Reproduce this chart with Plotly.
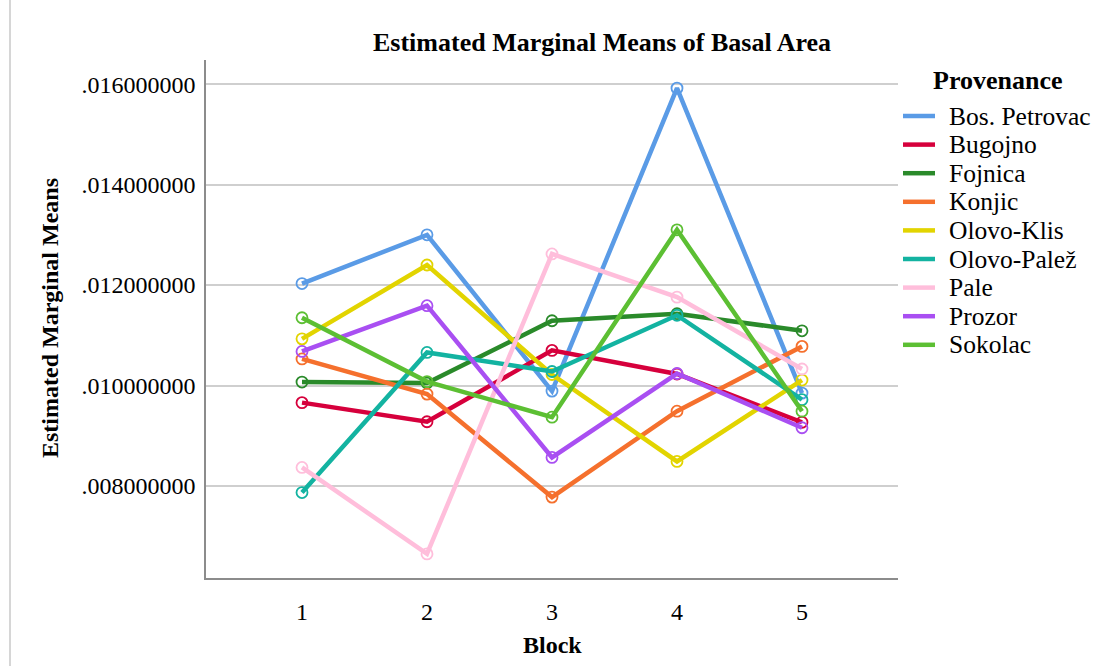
import plotly.graph_objects as go

# Estimated marginal means of basal area by block and provenance
blocks = [1, 2, 3, 4, 5]
provenances = ["Bos. Petrovac", "Bugojno", "Fojnica", "Konjic", "Olovo-Klis",
               "Olovo-Palež", "Pale", "Prozor", "Sokolac"]

bos_petrovac = [0.01203, 0.01300, 0.00989, 0.01592, 0.00985]
bugojno      = [0.00966, 0.00928, 0.01070, 0.01023, 0.00927]
fojnica      = [0.01007, 0.01005, 0.01129, 0.01143, 0.01109]
konjic       = [0.01053, 0.00983, 0.00778, 0.00949, 0.01078]
olovo_klis   = [0.01093, 0.01240, 0.01022, 0.00849, 0.01011]
olovo_palez  = [0.00787, 0.01066, 0.01028, 0.01140, 0.00972]
pale         = [0.00837, 0.00665, 0.01262, 0.01176, 0.01033]
prozor       = [0.01068, 0.01159, 0.00857, 0.01024, 0.00916]
sokolac      = [0.01135, 0.01008, 0.00937, 0.01310, 0.00949]

series = [bos_petrovac, bugojno, fojnica, konjic, olovo_klis,
          olovo_palez, pale, prozor, sokolac]

colors = ["#5a9be6", "#d6003c", "#2a8a2a", "#f5702d", "#e2d400",
          "#13b3a1", "#ffbedb", "#a94ff2", "#5cbf33"]

y_ticks = [0.008, 0.010, 0.012, 0.014, 0.016]
y_ticktext = [f"{v:.9f}".lstrip("0") for v in y_ticks]

W, H = 1105, 666
L, R, T, B = 206, 898, 60, 578   # plot area in pixels
FONT = "Liberation Serif, Times New Roman, serif"


def px(x):
    return (x - L) / (R - L)


def py(y):
    return (B - y) / (B - T)


fig = go.Figure()
for name, vals, col in zip(provenances, series, colors):
    fig.add_trace(go.Scatter(
        x=blocks, y=vals, name=name, mode="lines+markers",
        line=dict(color=col, width=4.5),
        marker=dict(symbol="circle-open", size=11, color=col,
                    line=dict(width=1.8, color=col)),
        showlegend=False,
    ))

shapes = []
annotations = []

# legend drawn in pixel positions
annotations.append(dict(
    text="<b>Provenance</b>", x=px(998), y=py(80), xref="paper", yref="paper",
    showarrow=False, xanchor="center", yanchor="middle",
    font=dict(family=FONT, size=26, color="black")))
for i, (name, col) in enumerate(zip(provenances, colors)):
    yy = 116 + i * 28.6
    shapes.append(dict(type="line", xref="paper", yref="paper",
                       x0=px(903), x1=px(935), y0=py(yy), y1=py(yy),
                       line=dict(color=col, width=4.5)))
    annotations.append(dict(
        text=name, x=px(947), y=py(yy), xref="paper", yref="paper",
        showarrow=False, xanchor="left", yanchor="middle",
        font=dict(family=FONT, size=25.5, color="black")))

# chart title and axis titles
annotations.append(dict(
    text="<b>Estimated Marginal Means of Basal Area</b>", x=px(602), y=py(42),
    xref="paper", yref="paper", showarrow=False, xanchor="center",
    yanchor="middle", font=dict(family=FONT, size=26, color="black")))
annotations.append(dict(
    text="<b>Estimated Marginal Means</b>", x=px(50), y=py(318),
    xref="paper", yref="paper", showarrow=False, xanchor="center",
    yanchor="middle", textangle=-90,
    font=dict(family=FONT, size=24, color="black")))
annotations.append(dict(
    text="<b>Block</b>", x=px(552), y=py(645),
    xref="paper", yref="paper", showarrow=False, xanchor="center",
    yanchor="middle", font=dict(family=FONT, size=24, color="black")))

# outer frame line
shapes.append(dict(type="line", xref="paper", yref="paper",
                   x0=px(10), x1=px(10), y0=py(0), y1=py(666),
                   line=dict(color="#c8c8c8", width=1.5)))

fig.update_layout(
    width=W, height=H,
    margin=dict(l=L, r=W - R, t=T, b=H - B),
    paper_bgcolor="white", plot_bgcolor="white",
    showlegend=False,
    shapes=shapes, annotations=annotations,
    xaxis=dict(range=[0.232, 5.768], tickvals=blocks,
               ticktext=[str(b) for b in blocks],
               showgrid=False, zeroline=False,
               showline=True, linecolor="#8c8c8c", linewidth=1.5,
               ticks="", ticklabelstandoff=11,
               tickfont=dict(family=FONT, size=24, color="black")),
    yaxis=dict(range=[0.00617, 0.01648], tickvals=y_ticks,
               ticktext=y_ticktext,
               showgrid=True, gridcolor="#cfcfcf", gridwidth=1.5,
               zeroline=False,
               showline=True, linecolor="#8c8c8c", linewidth=1.5,
               ticks="", ticklabelstandoff=4,
               tickfont=dict(family=FONT, size=24, color="black")),
)

fig.write_html("out.html")
